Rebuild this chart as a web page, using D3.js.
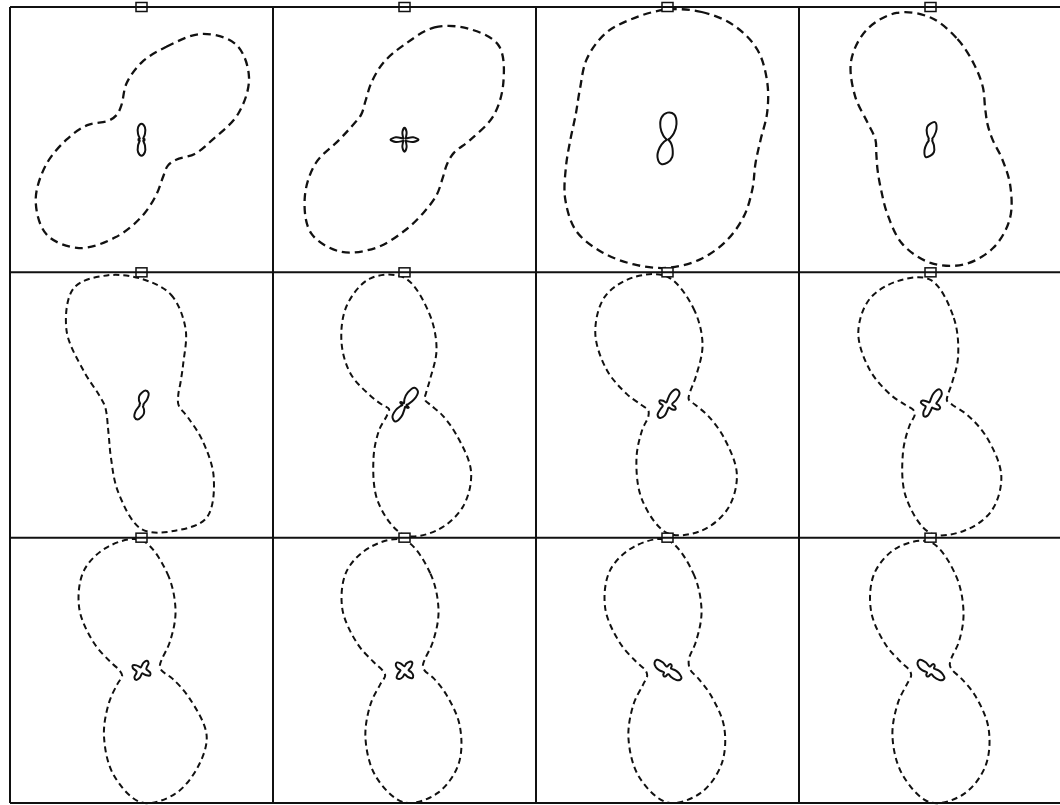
<!DOCTYPE html>
<html>
<head>
<meta charset="utf-8">
<script src="https://cdn.jsdelivr.net/npm/d3@7"></script>
<style>
  body { margin: 0; background: #fff; }
  svg { display: block; }
</style>
</head>
<body>
<div id="chart"></div>
<script>
// polar sample angles, degrees clockwise from up
const angles = d3.range(0, 360, 15);

// dashed (outer) patterns, one per panel
const outer1 = [77, 96, 122, 134, 124, 100, 71, 55, 40, 37, 43, 57, 77, 101, 125, 134, 122, 99, 75, 56, 38, 35, 40, 58];
const outer2 = [95, 116, 128, 133, 114, 92, 66, 51, 49, 54, 64, 75, 91, 112, 129, 132, 115, 92, 65, 54, 50, 55, 66, 80];
const outer3 = [130, 132, 132, 127, 115, 103, 93, 91, 98, 108, 117, 124, 128, 129, 130, 129, 118, 105, 97, 95, 101, 114, 123, 126];
const outer4 = [122, 104, 87, 74, 63, 59, 62, 74, 92, 112, 125, 129, 123, 108, 86, 70, 61, 56, 55, 65, 87, 112, 127, 131];
const outer5 = [126, 114, 88, 59, 45, 38, 37, 48, 70, 102, 130, 130, 124, 90, 61, 46, 39, 36, 37, 45, 66, 106, 135, 134];
const outer6 = [127, 95, 64, 36, 25, 21, 26, 39, 60, 94, 117, 129, 130, 101, 62, 36, 20, 16, 22, 35, 62, 89, 115, 131];
const outer7 = [128, 100, 70, 40, 26, 22, 28, 42, 65, 98, 120, 130, 128, 98, 62, 36, 22, 20, 26, 42, 70, 102, 125, 132];
const outer8 = [125, 90, 55, 30, 20, 17, 22, 38, 65, 100, 122, 130, 128, 95, 55, 30, 18, 18, 25, 42, 70, 102, 122, 128];
const outer9 = [130, 100, 68, 40, 24, 19, 20, 32, 55, 92, 112, 128, 132, 108, 75, 46, 28, 20, 22, 32, 55, 88, 115, 128];
const outer10 = [130, 100, 68, 40, 24, 19, 20, 30, 48, 78, 108, 127, 132, 110, 78, 48, 28, 20, 22, 32, 55, 88, 115, 128];
const outer11 = [130, 100, 68, 40, 25, 22, 23, 32, 50, 80, 108, 127, 132, 110, 78, 48, 28, 21, 22, 32, 55, 88, 115, 128];
const outer12 = [128, 98, 66, 40, 24, 20, 22, 32, 52, 82, 110, 128, 132, 108, 76, 46, 27, 20, 21, 30, 52, 84, 112, 127];

// solid (inner) patterns
const inner1 = [16, 13, 7, 3, 2, 3, 3, 3, 2, 3, 7, 13, 16, 13, 7, 3, 2, 3, 3, 3, 2, 3, 7, 13];
const inner2 = [12, 8, 3, 1.5, 3, 9, 14, 9, 3, 1.5, 3, 8, 12, 8, 3, 1.5, 3, 9, 14, 9, 3, 1.5, 3, 8];
const inner3 = [27, 26, 18, 9, 3, 1, 1, 1, 2, 5, 10, 18, 23, 25, 20, 11, 4, 1, 1, 1, 2, 6, 14, 23];
const inner4 = [16, 18, 12, 5, 2, 2, 2, 2, 2, 3, 7, 13, 16, 18, 12, 5, 2, 2, 2, 2, 2, 3, 7, 13];
const inner5 = [12, 15, 14, 8, 3, 2, 2, 2, 2, 2, 5, 9, 12, 15, 14, 8, 3, 2, 2, 2, 2, 2, 5, 9];
const inner6 = [6, 13, 20, 19, 11, 4, 2, 3, 5, 4, 2, 2, 4, 12, 19, 17, 10, 4, 2, 3, 5, 4, 2, 2];
const inner7 = [5, 12, 18, 17, 10, 5, 5, 8, 9, 6, 3, 3, 5, 11, 15, 14, 8, 5, 5, 8, 9, 6, 3, 3];
const inner8 = [5, 12, 18, 16, 9, 6, 8, 10, 9, 5, 3, 4, 6, 11, 13, 10, 6, 5, 7, 10, 9, 5, 3, 3];
const inner9 = [4, 8, 11, 10, 6, 5, 6, 9, 10, 7, 4, 3, 4, 8, 11, 10, 6, 5, 6, 9, 10, 7, 4, 3];
const inner10 = [4, 7, 10, 11, 8, 5, 4, 7, 10, 11, 8, 5, 4, 7, 10, 11, 8, 5, 4, 7, 10, 11, 8, 5];
const inner11 = [4, 6, 7, 6, 4, 5, 8, 12, 16, 14, 8, 4, 4, 6, 7, 6, 4, 5, 8, 12, 15, 15, 9, 4];
const inner12 = [4, 6, 7, 6, 4, 5, 8, 12, 16, 14, 8, 4, 4, 6, 7, 6, 4, 5, 8, 12, 15, 15, 9, 4];

const outerSets = [outer1, outer2, outer3, outer4, outer5, outer6, outer7, outer8, outer9, outer10, outer11, outer12];
const innerSets = [inner1, inner2, inner3, inner4, inner5, inner6, inner7, inner8, inner9, inner10, inner11, inner12];

const width = 1060, height = 805;
const nCols = 4, nRows = 3;

const svg = d3.select("#chart").append("svg")
  .attr("width", width)
  .attr("height", height);

svg.append("rect").attr("width", width).attr("height", height).attr("fill", "#fff");

// panel grid
const xGrid = d3.scaleLinear().domain([0, nCols]).range([10, 1062]);
const yGrid = d3.scaleLinear().domain([0, nRows]).range([7, 803]);
const panelW = xGrid(1) - xGrid(0);
const panelH = yGrid(1) - yGrid(0);

// radial scale (values are in picture units where the panel half-height is ~132)
const rScale = d3.scaleLinear().domain([0, 132]).range([0, panelH / 2 - 0.5]);

const toPoints = (vals) => vals.map((v, i) => ({ a: angles[i], v: v }));

const radial = d3.lineRadial()
  .angle((d) => (d.a * Math.PI) / 180)
  .radius((d) => rScale(d.v))
  .curve(d3.curveCatmullRomClosed.alpha(0.5));

const panels = outerSets.map((o, i) => ({
  col: i % nCols,
  row: Math.floor(i / nCols),
  outer: toPoints(o),
  inner: toPoints(innerSets[i]),
}));

const g = svg.selectAll("g.panel")
  .data(panels)
  .enter()
  .append("g")
  .attr("class", "panel")
  .attr("transform", (d) => `translate(${xGrid(d.col) + panelW / 2},${yGrid(d.row) + panelH / 2})`);

g.append("path")
  .attr("d", (d) => radial(d.outer))
  .attr("fill", "none")
  .attr("stroke", "#111")
  .attr("stroke-width", (d) => (d.row === 0 ? 2.3 : 2))
  .attr("stroke-dasharray", (d) => (d.row === 0 ? "8,5" : "6,4"));

g.append("path")
  .attr("d", (d) => radial(d.inner))
  .attr("fill", "none")
  .attr("stroke", "#111")
  .attr("stroke-width", 2);

// grid lines
svg.selectAll("line.v")
  .data(d3.range(nCols + 1))
  .enter()
  .append("line")
  .attr("x1", (d) => xGrid(d)).attr("x2", (d) => xGrid(d))
  .attr("y1", yGrid(0)).attr("y2", yGrid(nRows))
  .attr("stroke", "#111").attr("stroke-width", 2);

svg.selectAll("line.h")
  .data(d3.range(nRows + 1))
  .enter()
  .append("line")
  .attr("x1", xGrid(0)).attr("x2", width)
  .attr("y1", (d) => yGrid(d)).attr("y2", (d) => yGrid(d))
  .attr("stroke", "#111").attr("stroke-width", 2);

// small reference squares on top edge of each panel
g.append("rect")
  .attr("x", -5.5)
  .attr("y", -panelH / 2 - 4.5)
  .attr("width", 11)
  .attr("height", 9)
  .attr("fill", "#fff")
  .attr("stroke", "#111")
  .attr("stroke-width", 1.5);
</script>
</body>
</html>
